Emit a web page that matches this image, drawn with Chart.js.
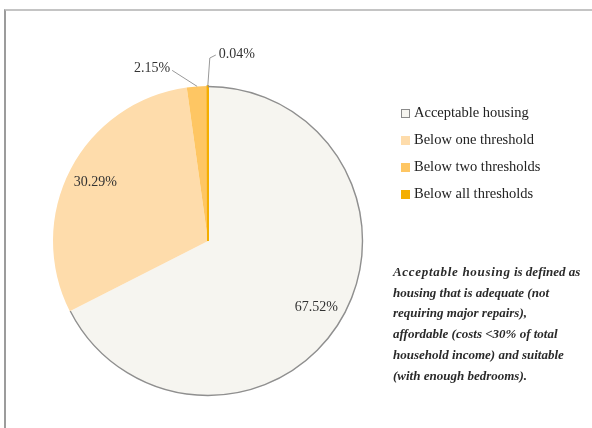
<!DOCTYPE html>
<html>
<head>
<meta charset="utf-8">
<script src="https://cdn.jsdelivr.net/npm/chart.js@4"></script>
<style>
  html, body { margin: 0; padding: 0; background: #fff; }
  body { width: 592px; height: 428px; position: relative; overflow: hidden; font-family: "Liberation Serif", "DejaVu Serif", serif; }
  #frame { position: absolute; left: 4px; top: 9px; width: 700px; height: 600px;
           border-top: 2px solid #c4c4c4; border-left: 2px solid #9c9c9c; }
  #wrap { position: absolute; left: 0; top: 0; width: 592px; height: 428px; }
  #legend { position: absolute; left: 401px; top: 99px; }
  .item { height: 27px; display: flex; align-items: center; font-size: 14.5px; color: #222; }
  .box { width: 9px; height: 9px; margin-right: 4px; margin-top: 2px; box-sizing: border-box; }
  #note { position: absolute; left: 393px; top: 262px; font-size: 13px; line-height: 20.7px; white-space: nowrap;
          font-style: italic; font-weight: bold; color: #2a2a2a; }
  #note .lead { letter-spacing: 0.7px; }
</style>
</head>
<body>
<div id="frame"></div>
<div id="wrap"><canvas id="chart" width="592" height="428"></canvas></div>
<div id="legend"></div>
<div id="note"><span class="lead">Acceptable housing</span> is defined as<br>housing that is adequate (not<br>requiring major repairs),<br>affordable (costs &lt;30% of total<br>household income) and suitable<br>(with enough bedrooms).</div>
<script>
// Share of households by housing-standard status
const categories = ['Acceptable housing', 'Below one threshold', 'Below two thresholds', 'Below all thresholds'];
const shares = [67.52, 30.29, 2.15, 0.04];
const sliceColors = ['#f6f5f0', '#fedcab', '#fec663', '#f4ae00'];
const legendBorders = ['#8a8a8a', '#fedcab', '#fec663', '#f4ae00'];
// the thinnest slice gets a stroke in its own colour so it stays visible
const sliceBorderWidths = [0, 0, 0, 2];

// HTML legend built from the category list
const legend = document.getElementById('legend');
categories.forEach((name, i) => {
  const row = document.createElement('div');
  row.className = 'item';
  const box = document.createElement('span');
  box.className = 'box';
  box.style.background = sliceColors[i];
  box.style.border = '1px solid ' + legendBorders[i];
  row.appendChild(box);
  row.appendChild(document.createTextNode(name));
  legend.appendChild(row);
});

// Outline around the outer rim of the first slice only
const rimOutline = {
  id: 'rimOutline',
  afterDatasetsDraw(chart) {
    const arc = chart.getDatasetMeta(0).data[0];
    const ctx = chart.ctx;
    ctx.save();
    ctx.strokeStyle = '#8f8f8f';
    ctx.lineWidth = 1.4;
    ctx.beginPath();
    ctx.arc(arc.x, arc.y, arc.outerRadius - 0.5, arc.startAngle, arc.endAngle);
    ctx.stroke();
    ctx.restore();
  }
};

// Percentage labels: inside for large slices, outside with leader lines for thin ones
const sliceLabels = {
  id: 'sliceLabels',
  afterDatasetsDraw(chart) {
    const ctx = chart.ctx;
    const meta = chart.getDatasetMeta(0);
    ctx.save();
    ctx.font = '14px "Liberation Serif", serif';
    ctx.fillStyle = '#333';
    ctx.textBaseline = 'middle';
    meta.data.forEach((arc, i) => {
      const text = shares[i].toFixed(2) + '%';
      const mid = (arc.startAngle + arc.endAngle) / 2;
      const r = arc.outerRadius;
      if (shares[i] >= 5) {
        ctx.textAlign = 'center';
        ctx.fillText(text, arc.x + Math.cos(mid) * r * 0.82, arc.y + Math.sin(mid) * r * 0.82);
        return;
      }
      const ex = arc.x + Math.cos(mid) * r;
      const ey = arc.y + Math.sin(mid) * r;
      ctx.strokeStyle = '#999';
      ctx.lineWidth = 1;
      ctx.beginPath();
      ctx.moveTo(ex, ey);
      if (i === 2) {
        ctx.lineTo(ex - 25, ey - 16);
        ctx.stroke();
        ctx.textAlign = 'right';
        ctx.fillText(text, ex - 27, ey - 18);
      } else {
        ctx.lineTo(ex + 2, ey - 28);
        ctx.lineTo(ex + 8, ey - 31);
        ctx.stroke();
        ctx.textAlign = 'left';
        ctx.fillText(text, ex + 11, ey - 32);
      }
    });
    ctx.restore();
  }
};

new Chart(document.getElementById('chart'), {
  type: 'pie',
  data: {
    labels: categories,
    datasets: [{
      data: shares,
      backgroundColor: sliceColors,
      borderColor: sliceColors,
      borderWidth: sliceBorderWidths,
      borderJoinStyle: 'miter'
    }]
  },
  options: {
    responsive: false,
    animation: false,
    layout: { padding: { left: 52, top: 85, right: 228, bottom: 31 } },
    plugins: { legend: { display: false }, tooltip: { enabled: false } }
  },
  plugins: [rimOutline, sliceLabels]
});
</script>
</body>
</html>
